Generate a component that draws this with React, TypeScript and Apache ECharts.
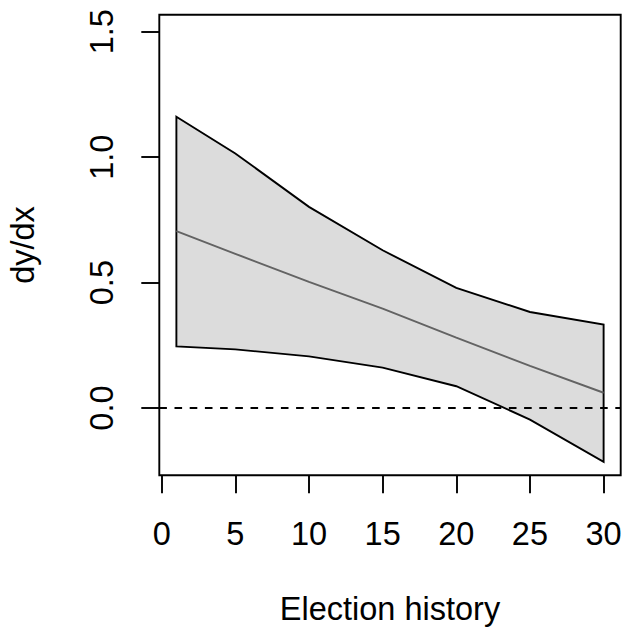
import React, { useEffect, useRef } from "react";
import * as echarts from "echarts";

const xs = [1, 5, 10, 15, 20, 25, 30];
const upper = [1.161, 1.015, 0.802, 0.629, 0.479, 0.383, 0.333];
const lower = [0.246, 0.234, 0.206, 0.161, 0.087, -0.046, -0.214];
const mean = [0.705, 0.615, 0.503, 0.396, 0.281, 0.168, 0.061];
const xTicks = [0, 5, 10, 15, 20, 25, 30];
const yTicks = [0, 0.5, 1.0, 1.5];

const FONT = "'Liberation Sans', Arial, sans-serif";
const FS = 32.5;
const LW = 1.9;

export default function App() {
  const ref = useRef<HTMLDivElement>(null);
  useEffect(() => {
    document.body.style.margin = "0";
    const chart = echarts.init(ref.current!, null, { renderer: "svg" });
    const option: any = {
      animation: false,
      backgroundColor: "#ffffff",
      grid: {
        left: 159.3,
        right: 2.3,
        top: 14.7,
        bottom: 154.7,
        show: true,
        borderColor: "#000",
        borderWidth: LW,
        backgroundColor: "transparent",
        outerBoundsMode: "none",
        containLabel: false,
      },
      xAxis: {
        type: "value",
        min: -0.16,
        max: 31.16,
        name: "Election history",
        nameLocation: "middle",
        nameGap: 117,
        nameTextStyle: { fontSize: FS, color: "#000", fontFamily: FONT },
        axisLine: { show: false, onZero: false },
        splitLine: { show: false },
        axisTick: {
          show: true,
          inside: false,
          length: 18,
          customValues: xTicks,
          lineStyle: { color: "#000", width: LW },
        },
        axisLabel: {
          customValues: xTicks,
          fontSize: FS,
          color: "#000",
          fontFamily: FONT,
          margin: 42,
          formatter: (v: number) => String(v),
        },
      },
      yAxis: {
        type: "value",
        min: -0.268,
        max: 1.568,
        name: "dy/dx",
        nameLocation: "middle",
        nameRotate: 90,
        nameGap: 120,
        nameTextStyle: { fontSize: FS, color: "#000", fontFamily: FONT },
        axisLine: { show: false, onZero: false },
        splitLine: { show: false },
        axisTick: {
          show: true,
          inside: false,
          length: 18,
          customValues: yTicks,
          lineStyle: { color: "#000", width: LW },
        },
        axisLabel: {
          customValues: yTicks,
          rotate: 90,
          fontSize: FS,
          color: "#000",
          fontFamily: FONT,
          margin: 41,
          formatter: (v: number) => v.toFixed(1),
        },
      },
      series: [
        {
          type: "custom",
          z: 1,
          silent: true,
          data: xs.map((x, i) => [x, lower[i], upper[i]]),
          encode: { x: 0, y: [1, 2] },
          renderItem: (params: any, api: any) => {
            if (params.dataIndex !== 0) return { type: "group", children: [] };
            const pts: number[][] = [];
            xs.forEach((x, i) => pts.push(api.coord([x, upper[i]])));
            for (let i = xs.length - 1; i >= 0; i--) pts.push(api.coord([xs[i], lower[i]]));
            return {
              type: "polygon",
              shape: { points: pts },
              style: { fill: "#dcdcdc", stroke: "#000", lineWidth: LW, lineJoin: "miter" },
            };
          },
        },
        {
          type: "line",
          z: 2,
          silent: true,
          showSymbol: false,
          symbol: "none",
          data: xs.map((x, i) => [x, mean[i]]),
          lineStyle: { color: "#636363", width: LW },
          markLine: {
            silent: true,
            symbol: ["none", "none"],
            label: { show: false },
            lineStyle: { color: "#000", width: LW, type: [7.6, 7.6] },
            data: [{ yAxis: 0 }],
          },
        },
      ],
    };
    chart.setOption(option);
    return () => chart.dispose();
  }, []);
  return <div ref={ref} style={{ width: 623, height: 630 }} />;
}
